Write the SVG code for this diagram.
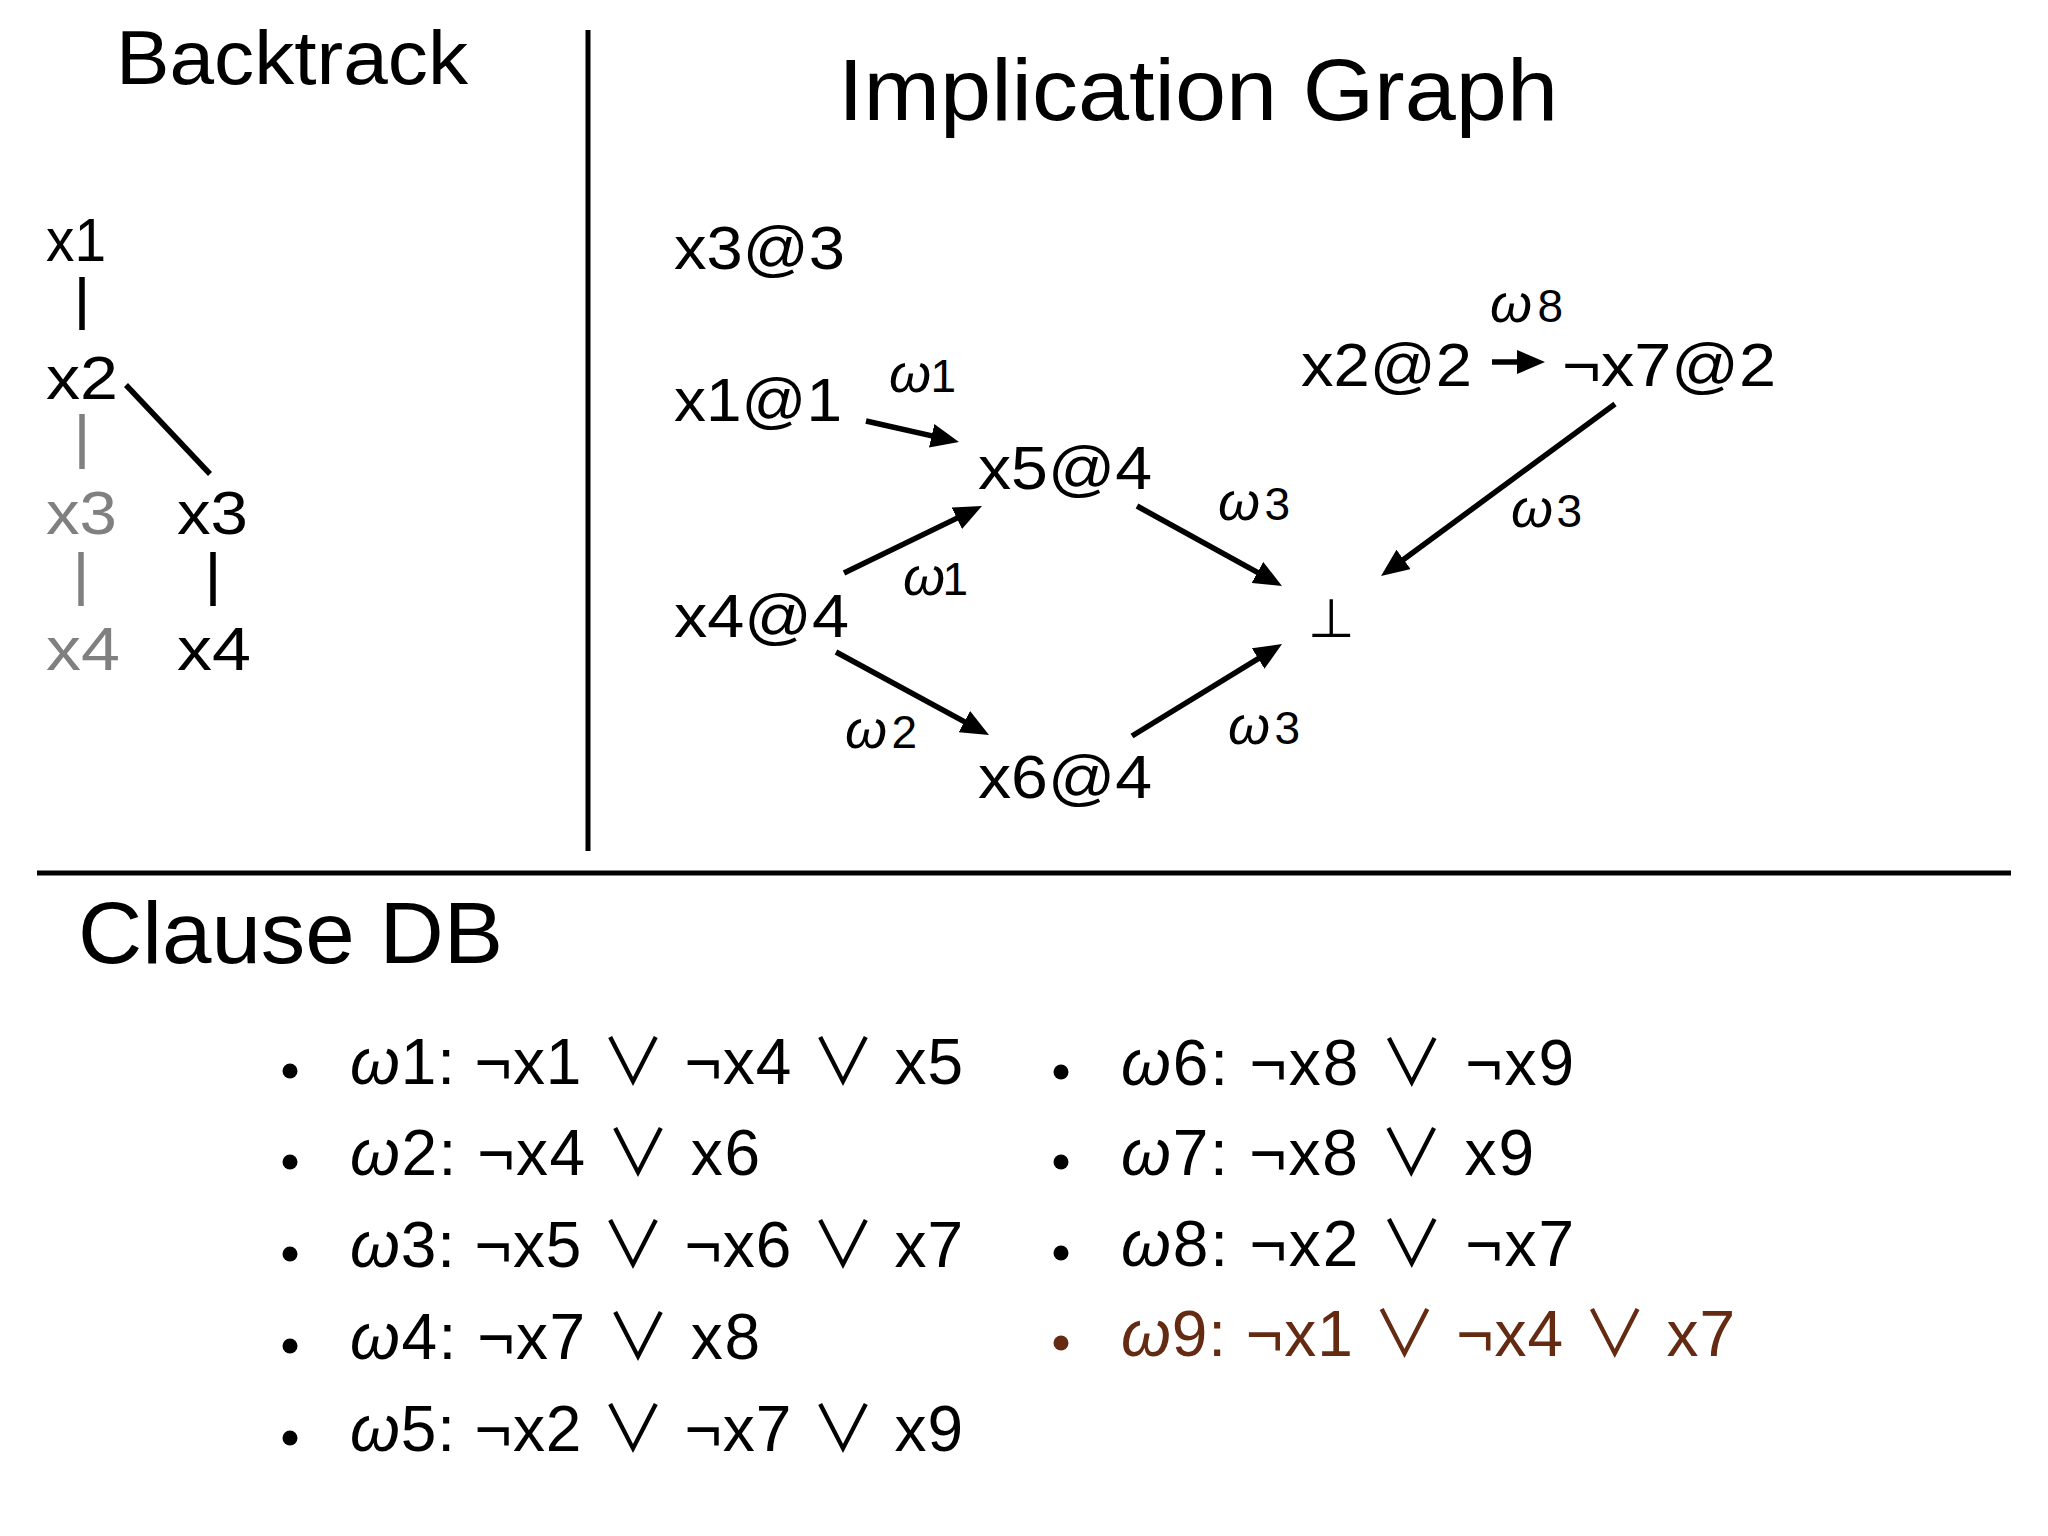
<svg xmlns="http://www.w3.org/2000/svg" width="2048" height="1536" viewBox="0 0 2048 1536">
<defs>
<style>
text{font-family:"Liberation Sans","DejaVu Sans",sans-serif;fill:#000}
.title{font-size:76px}
.h2{font-size:88px}
.bt{font-size:62px}
.gray{fill:#808080}
.node{font-size:62px}
.lbl{font-size:46px}
.w{font-style:italic}
.lbl .w{font-size:54px}
.or{font-family:"Noto Sans CJK JP","DejaVu Sans",sans-serif}
.cl{font-size:64px}
.brown{fill:#652a12}
.tree{stroke:#000;stroke-width:5.5;fill:none}
.treeg{stroke:#808080;stroke-width:5.5;fill:none}
.div{stroke:#000;stroke-width:5;fill:none}
.edge{stroke:#000;stroke-width:5.5;fill:none;marker-end:url(#ah)}
</style>
<marker id="ah" viewBox="0 0 28 24" refX="14" refY="12" markerWidth="28" markerHeight="24" markerUnits="userSpaceOnUse" orient="auto">
<path d="M0,0 L28,12 L0,24 z" fill="#000"/>
</marker>
</defs>
<rect width="2048" height="1536" fill="#fff"/>

<g id="dividers">
<line class="div" x1="588" y1="30" x2="588" y2="851"/>
<line class="div" x1="37" y1="873" x2="2011" y2="873"/>
</g>

<g id="backtrack">
<text class="title" x="116" y="84" textLength="352" lengthAdjust="spacingAndGlyphs">Backtrack</text>
<g id="bt-x1"><text class="bt" x="46" y="261" textLength="60" lengthAdjust="spacingAndGlyphs">x1</text></g>
<g id="bt-x2"><text class="bt" x="46" y="399" textLength="72" lengthAdjust="spacingAndGlyphs">x2</text></g>
<g id="bt-x3-old"><text class="bt gray" x="46" y="534" textLength="71" lengthAdjust="spacingAndGlyphs">x3</text></g>
<g id="bt-x3-new"><text class="bt" x="177" y="534" textLength="71" lengthAdjust="spacingAndGlyphs">x3</text></g>
<g id="bt-x4-old"><text class="bt gray" x="46" y="670" textLength="74" lengthAdjust="spacingAndGlyphs">x4</text></g>
<g id="bt-x4-new"><text class="bt" x="177" y="670" textLength="74" lengthAdjust="spacingAndGlyphs">x4</text></g>
<g id="bt-links">
<line class="tree" x1="82" y1="277" x2="82" y2="330"/>
<line class="tree" x1="126" y1="385" x2="210" y2="474"/>
<line class="treeg" x1="82" y1="414" x2="82" y2="469"/>
<line class="treeg" x1="81" y1="552" x2="81" y2="606"/>
<line class="tree" x1="213" y1="552" x2="213" y2="606"/>
</g>
</g>

<g id="implication-graph">
<text class="h2" x="838" y="120" textLength="720" lengthAdjust="spacingAndGlyphs">Implication Graph</text>
<g id="n-x3"><text class="node" x="674" y="269" textLength="171" lengthAdjust="spacingAndGlyphs">x3@3</text></g>
<g id="n-x1"><text class="node" x="674" y="421" textLength="168" lengthAdjust="spacingAndGlyphs">x1@1</text></g>
<g id="n-x4"><text class="node" x="674" y="637" textLength="175" lengthAdjust="spacingAndGlyphs">x4@4</text></g>
<g id="n-x5"><text class="node" x="978" y="489" textLength="174" lengthAdjust="spacingAndGlyphs">x5@4</text></g>
<g id="n-x6"><text class="node" x="978" y="798" textLength="174" lengthAdjust="spacingAndGlyphs">x6@4</text></g>
<g id="n-bot"><text x="1331" y="637" text-anchor="middle" style="font-family:'DejaVu Sans',sans-serif;font-size:54px">⊥</text></g>
<g id="n-x2"><text class="node" x="1301" y="386" textLength="171" lengthAdjust="spacingAndGlyphs">x2@2</text></g>
<g id="n-x7"><text class="node" x="1562" y="386" textLength="214" lengthAdjust="spacingAndGlyphs">¬x7@2</text></g>

<g id="edges">
<line class="edge" x1="866" y1="421" x2="945.3" y2="438.9"/>
<line class="edge" x1="844" y1="573" x2="969.4" y2="512.1"/>
<line class="edge" x1="836" y1="652" x2="976.7" y2="728.3"/>
<line class="edge" x1="1137" y1="506" x2="1269.7" y2="579.2"/>
<line class="edge" x1="1132" y1="736" x2="1270.1" y2="651.3"/>
<line class="edge" x1="1492" y1="362" x2="1531" y2="362"/>
<line class="edge" x1="1615" y1="404" x2="1392.3" y2="567.7"/>
</g>

<g id="edge-labels">
<text class="lbl" x="889" y="392" textLength="67"><tspan class="w">ω</tspan>1</text>
<text class="lbl" x="903" y="595" textLength="65"><tspan class="w">ω</tspan>1</text>
<text class="lbl" x="1218" y="520" textLength="72"><tspan class="w">ω</tspan>3</text>
<text class="lbl" x="845" y="748" textLength="72"><tspan class="w">ω</tspan>2</text>
<text class="lbl" x="1228" y="744" textLength="72"><tspan class="w">ω</tspan>3</text>
<text class="lbl" x="1490" y="322" textLength="73"><tspan class="w">ω</tspan>8</text>
<text class="lbl" x="1511" y="527" textLength="71"><tspan class="w">ω</tspan>3</text>
</g>
</g>

<g id="clause-db">
<text class="h2" x="78" y="963" textLength="425" lengthAdjust="spacingAndGlyphs">Clause DB</text>
<g id="c1"><circle cx="290" cy="1071" r="7.5"/><text class="cl" x="350" y="1084" textLength="613"><tspan class="w">ω</tspan>1: ¬x1 <tspan class="or">∨</tspan> ¬x4 <tspan class="or">∨</tspan> x5</text></g>
<g id="c2"><circle cx="290" cy="1162" r="7.5"/><text class="cl" x="350" y="1175" textLength="410"><tspan class="w">ω</tspan>2: ¬x4 <tspan class="or">∨</tspan> x6</text></g>
<g id="c3"><circle cx="290" cy="1254" r="7.5"/><text class="cl" x="350" y="1267" textLength="613"><tspan class="w">ω</tspan>3: ¬x5 <tspan class="or">∨</tspan> ¬x6 <tspan class="or">∨</tspan> x7</text></g>
<g id="c4"><circle cx="290" cy="1346" r="7.5"/><text class="cl" x="350" y="1359" textLength="410"><tspan class="w">ω</tspan>4: ¬x7 <tspan class="or">∨</tspan> x8</text></g>
<g id="c5"><circle cx="290" cy="1438" r="7.5"/><text class="cl" x="350" y="1451" textLength="613"><tspan class="w">ω</tspan>5: ¬x2 <tspan class="or">∨</tspan> ¬x7 <tspan class="or">∨</tspan> x9</text></g>
<g id="c6"><circle cx="1061" cy="1072" r="7.5"/><text class="cl" x="1121" y="1085" textLength="453"><tspan class="w">ω</tspan>6: ¬x8 <tspan class="or">∨</tspan> ¬x9</text></g>
<g id="c7"><circle cx="1061" cy="1162" r="7.5"/><text class="cl" x="1121" y="1175" textLength="413"><tspan class="w">ω</tspan>7: ¬x8 <tspan class="or">∨</tspan> x9</text></g>
<g id="c8"><circle cx="1061" cy="1253" r="7.5"/><text class="cl" x="1121" y="1266" textLength="453"><tspan class="w">ω</tspan>8: ¬x2 <tspan class="or">∨</tspan> ¬x7</text></g>
<g id="c9"><circle cx="1061" cy="1343" r="7.5" fill="#652a12"/><text class="cl brown" x="1121" y="1356" textLength="614"><tspan class="w">ω</tspan>9: ¬x1 <tspan class="or">∨</tspan> ¬x4 <tspan class="or">∨</tspan> x7</text></g>
</g>
</svg>
